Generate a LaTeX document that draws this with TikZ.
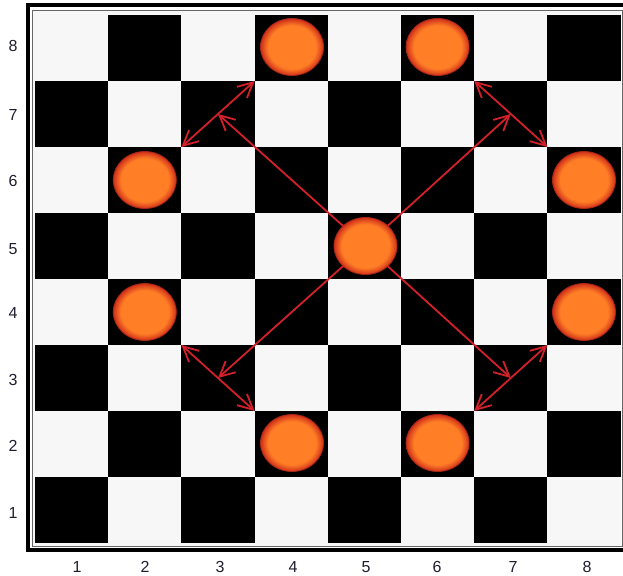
\documentclass[tikz,border=0pt]{standalone}
\usepackage{fontspec}
\setmainfont{Liberation Sans}
\usetikzlibrary{shapes.geometric,arrows.meta}
\definecolor{pieceor}{HTML}{FF7E26}
\definecolor{piecerim}{HTML}{D0301A}
\definecolor{arrowred}{HTML}{D4202A}
\definecolor{sqwhite}{HTML}{F7F7F7}
\definecolor{labelc}{HTML}{1E1E30}
\pgfdeclareradialshading{pieceshade}{\pgfpoint{0bp}{0bp}}{color(0bp)=(pieceor); color(19bp)=(pieceor); color(25bp)=(piecerim); color(50bp)=(piecerim)}
\begin{document}
\begin{tikzpicture}[x=1pt,y=-1pt,
  piece/.style={ellipse,minimum width=63pt,minimum height=57pt,inner sep=0pt,shading=pieceshade,draw=piecerim!80!black,line width=0.8pt},
  lbl/.style={font=\fontsize{16}{17}\selectfont,text=labelc,inner sep=0pt},
  tipx/.tip={Straight Barb[length=15pt,width=15pt,line width=1.8pt]},
  mv/.style={draw=arrowred,line width=1.8pt,-tipx},
  dmv/.style={draw=arrowred,line width=1.8pt,tipx-tipx}]
\clip (0,0) rectangle (623,575);
\fill[white] (0,0) rectangle (623,575);
% frame
\fill[sqwhite] (33,11) rectangle (621,546);
\draw[black,line width=4pt] (28,5.5) rectangle (628,549.5);
\draw[black!60,line width=0.8pt] (32.5,10.5) rectangle (622,546);
% squares
\foreach \c in {1,...,8}{
  \foreach \r in {1,...,8}{
    \pgfmathtruncatemacro\s{\c+\r}
    \ifodd\s\relax\else
      \fill[black] ({35+(\c-1)*73.2},{15+(8-\r)*66}) rectangle ++(73.2,66);
    \fi
  }
}
% labels
\node[lbl] (r8) at (13,46) {8};
\node[lbl] (r7) at (13,115) {7};
\node[lbl] (r6) at (13,181) {6};
\node[lbl] (r5) at (13,249) {5};
\node[lbl] (r4) at (13,313) {4};
\node[lbl] (r3) at (13,380) {3};
\node[lbl] (r2) at (13,446) {2};
\node[lbl] (r1) at (13,513) {1};
\node[lbl] (c1) at (77,567) {1};
\node[lbl] (c2) at (145,567) {2};
\node[lbl] (c3) at (220,567) {3};
\node[lbl] (c4) at (293,567) {4};
\node[lbl] (c5) at (366,567) {5};
\node[lbl] (c6) at (437,567) {6};
\node[lbl] (c7) at (513,567) {7};
\node[lbl] (c8) at (587,567) {8};
% pieces
\node[piece] (p48) at (292,47) {};
\node[piece] (p68) at (437.6,47) {};
\node[piece] (p26) at (144.8,180) {};
\node[piece] (p86) at (584,180) {};
\node[piece] (p55) at (365.5,246) {};
\node[piece] (p24) at (144.8,312) {};
\node[piece] (p84) at (584,312) {};
\node[piece] (p42) at (292,443) {};
\node[piece] (p62) at (437.6,443) {};
% move targets
\coordinate (m37) at (218,114);
\coordinate (m77) at (510.8,114);
\coordinate (m33) at (218,378);
\coordinate (m73) at (510.8,378);
\coordinate (a37) at (181.4,147);
\coordinate (b37) at (254.6,81);
\coordinate (a77) at (474.2,81);
\coordinate (b77) at (547.4,147);
\coordinate (a33) at (181.4,345);
\coordinate (b33) at (254.6,411);
\coordinate (a73) at (547.4,345);
\coordinate (b73) at (474.2,411);
% arrows
\draw[mv] (p55) -- (m37);
\draw[mv] (p55) -- (m77);
\draw[mv] (p55) -- (m33);
\draw[mv] (p55) -- (m73);
\draw[dmv] (a37) -- (b37);
\draw[dmv] (a77) -- (b77);
\draw[dmv] (a33) -- (b33);
\draw[dmv] (a73) -- (b73);
\end{tikzpicture}
\end{document}
